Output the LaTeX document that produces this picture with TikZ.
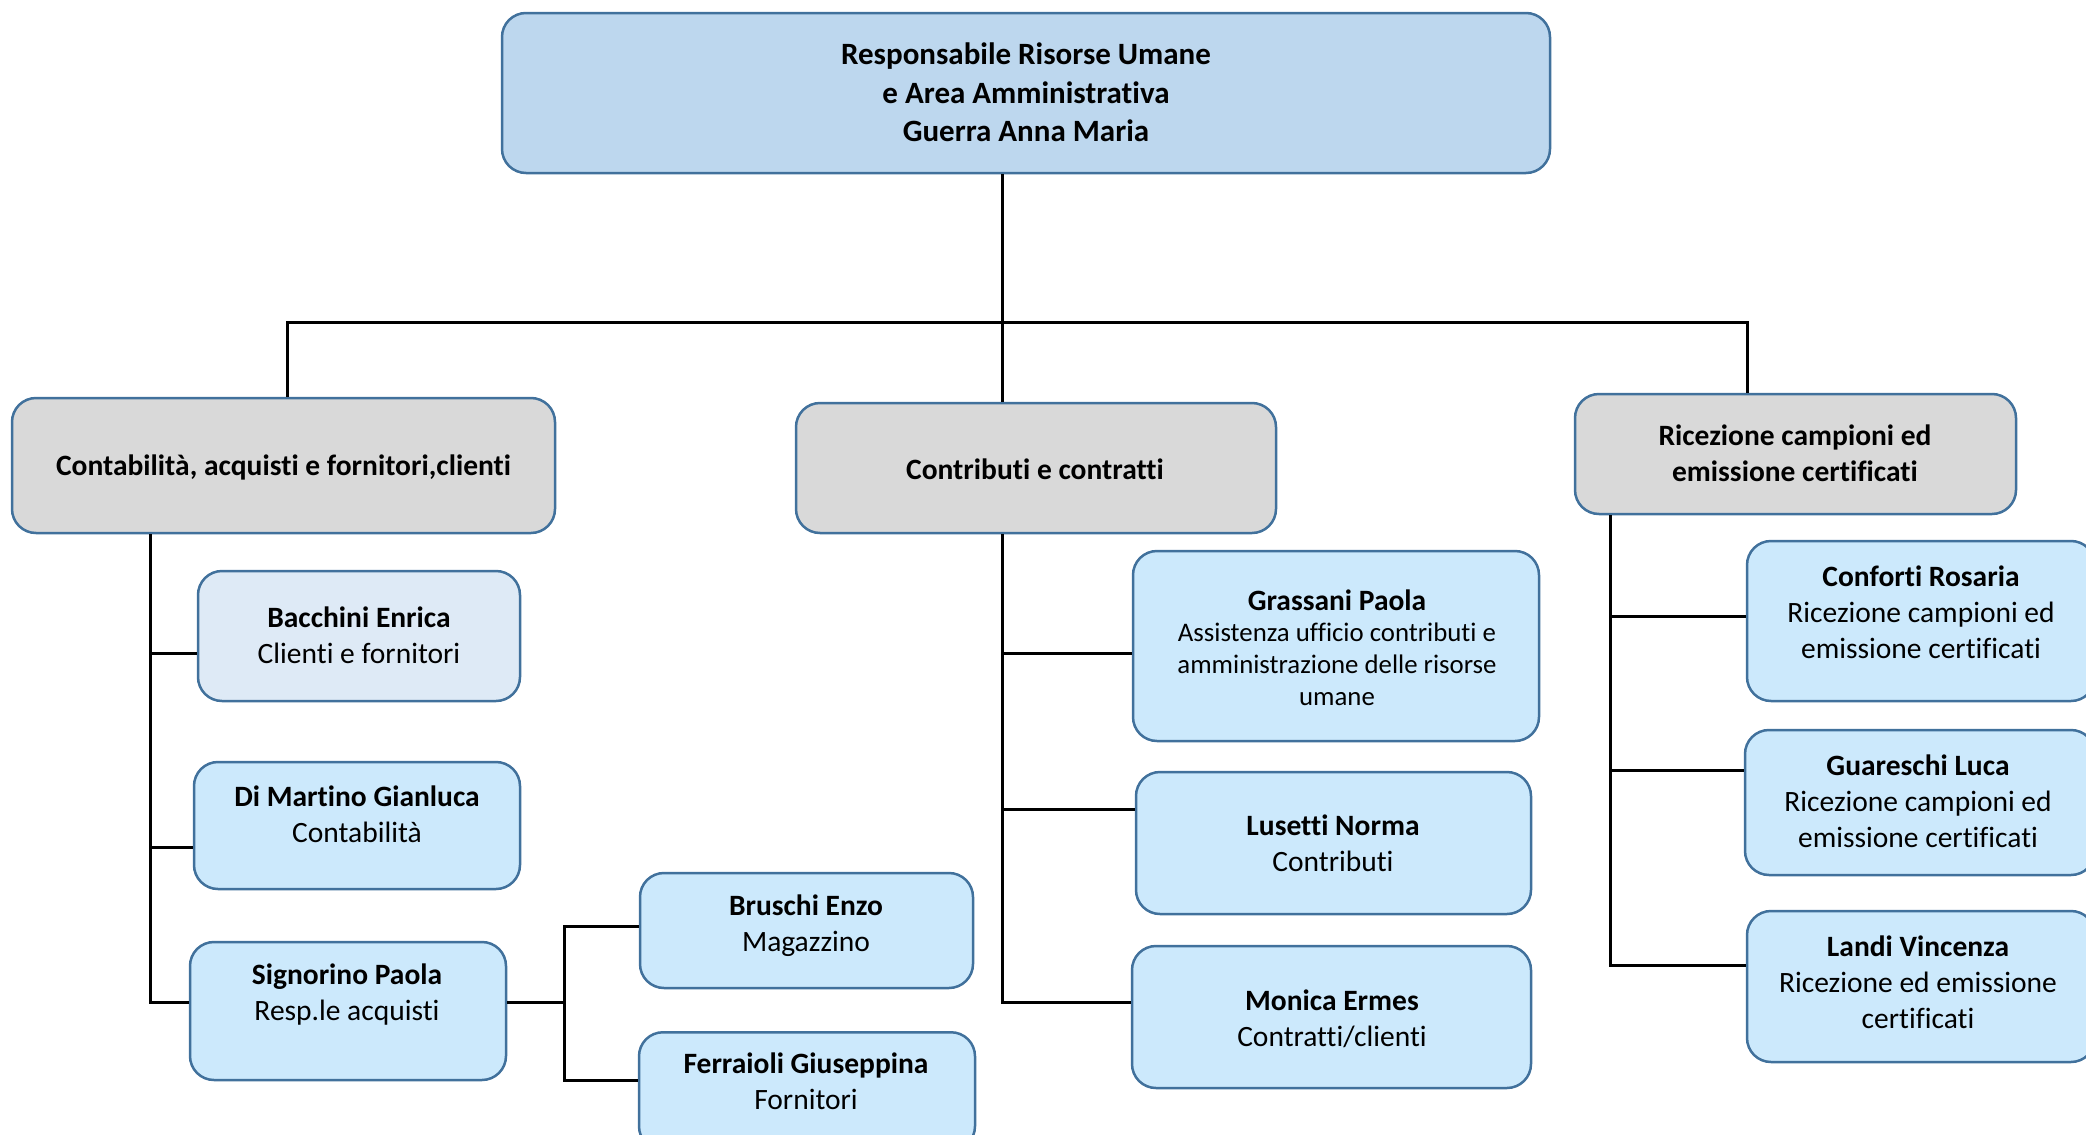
\documentclass[tikz,border=0pt]{standalone}
\usepackage{fontspec}
\setmainfont{Carlito}[Ligatures=NoCommon]
\definecolor{bord}{RGB}{65,113,156}
\definecolor{topfill}{RGB}{189,215,238}
\definecolor{deptfill}{RGB}{217,217,217}
\definecolor{palefill}{RGB}{222,234,246}
\definecolor{childfill}{RGB}{204,233,252}
\newcommand\smtxt{\fontsize{26.8}{32}\selectfont}
\begin{document}
\begin{tikzpicture}[x=1pt,y=-1pt,
  box/.style={draw=bord, line width=2.5pt, rounded corners=24pt, inner sep=0pt},
  topbox/.style={box, fill=topfill},
  deptbox/.style={box, fill=deptfill},
  childbox/.style={box, fill=childfill},
  palebox/.style={box, fill=palefill},
  txt/.style={align=center, inner sep=0pt, font=\fontsize{29.5}{36}\selectfont},
  toptxt/.style={txt, font=\fontsize{31}{38.6}\selectfont\bfseries},
  depttxt/.style={txt, font=\fontsize{29.5}{36}\selectfont\bfseries},
  link/.style={line width=3pt, black}]
\useasboundingbox (0,0) rectangle (2086,1135);
\clip (0,0) rectangle (2086,1135);

% top
\node[topbox, minimum width=1048pt, minimum height=160pt] (top) at (1026,93) {};
\node[toptxt] (topt) at (1026,92.5)
  {Responsabile Risorse Umane\\e Area Amministrativa\\Guerra Anna Maria};

% departments
\node[deptbox, minimum width=543pt, minimum height=135pt] (d1) at (283.5,465.5) {};
\node[depttxt] (d1t) at (283.5,467) {Contabilità, acquisti e fornitori,clienti};
\node[deptbox, minimum width=480pt, minimum height=130pt] (d2) at (1036,468) {};
\node[depttxt] (d2t) at (1035,469.5) {Contributi e contratti};
\node[deptbox, minimum width=441pt, minimum height=120pt] (d3) at (1795.5,454) {};
\node[depttxt] (d3t) at (1795,453.5) {Ricezione campioni ed\\emissione certificati};

% left column
\node[palebox, minimum width=322pt, minimum height=130pt] (bac) at (359,636) {};
\node[txt] (bact) at (359,635.5) {\textbf{Bacchini Enrica}\\Clienti e fornitori};
\node[childbox, minimum width=326pt, minimum height=127pt] (dim) at (357,825.5) {};
\node[txt] (dimt) at (357,814.5) {\textbf{Di Martino Gianluca}\\Contabilità};
\node[childbox, minimum width=316pt, minimum height=138pt] (sig) at (348,1011) {};
\node[txt] (sigt) at (347,995) {\textbf{Signorino Paola}\\Resp.le acquisti};
\node[childbox, minimum width=333pt, minimum height=115pt] (bru) at (806.5,930.5) {};
\node[txt] (brut) at (806,925.5) {\textbf{Bruschi Enzo}\\Magazzino};
\node[childbox, minimum width=336pt, minimum height=118pt, anchor=north] (fer) at (807,1031) {};
\node[txt] (fert) at (806,1081.5) {\textbf{Ferraioli Giuseppina}\\Fornitori};

% middle column
\node[childbox, minimum width=406pt, minimum height=190pt] (gra) at (1336,646) {};
\node[txt] (grat) at (1337,648)
  {\textbf{Grassani Paola}\\[-5pt]
   \smtxt Assistenza ufficio contributi e\\[-4pt]\smtxt amministrazione delle risorse\\[-4pt]\smtxt umane};
\node[childbox, minimum width=395pt, minimum height=142pt] (lus) at (1333.5,843) {};
\node[txt] (lust) at (1333,843.5) {\textbf{Lusetti Norma}\\Contributi};
\node[childbox, minimum width=399pt, minimum height=142pt] (mon) at (1331.5,1017) {};
\node[txt] (mont) at (1332,1018.5) {\textbf{Monica Ermes}\\Contratti/clienti};

% right column
\node[childbox, minimum width=348pt, minimum height=160pt] (con) at (1921,621) {};
\node[txt] (cont) at (1921,612.5) {\textbf{Conforti Rosaria}\\Ricezione campioni ed\\emissione certificati};
\node[childbox, minimum width=350pt, minimum height=145pt] (gua) at (1920,802.5) {};
\node[txt] (guat) at (1918,801.5) {\textbf{Guareschi Luca}\\Ricezione campioni ed\\emissione certificati};
\node[childbox, minimum width=348pt, minimum height=151pt] (lan) at (1921,986.5) {};
\node[txt] (lant) at (1918,982.5) {\textbf{Landi Vincenza}\\Ricezione ed emissione\\certificati};

% connectors
\coordinate (bl) at (287,322);
\coordinate (bm) at (1002,322);
\coordinate (br) at (1747,322);
\draw[link] (top.south -| bm) -- (bm |- d2.north);
\draw[link] (d1.north -| bl) -- (bl) -- (br) -- (br |- d3.north);

\coordinate (lt) at (150,1002);
\draw[link] (d1.south -| lt) -- (lt) -- (sig.west |- lt);
\draw[link] (150,653) -- (bac.west |- 150,653);
\draw[link] (150,847) -- (dim.west |- 150,847);

\coordinate (sp) at (564,1002);
\draw[link] (sig.east |- sp) -- (sp);
\draw[link] (bru.west |- 564,926) -- (564,926) -- (564,1080) -- (fer.west |- 564,1080);

\coordinate (mt) at (1002,1002);
\draw[link] (d2.south -| mt) -- (mt) -- (mon.west |- mt);
\draw[link] (1002,653) -- (gra.west |- 1002,653);
\draw[link] (1002,809) -- (lus.west |- 1002,809);

\coordinate (rt) at (1610,965);
\draw[link] (d3.south -| rt) -- (rt) -- (lan.west |- rt);
\draw[link] (1610,616) -- (con.west |- 1610,616);
\draw[link] (1610,770) -- (gua.west |- 1610,770);
\end{tikzpicture}
\end{document}
